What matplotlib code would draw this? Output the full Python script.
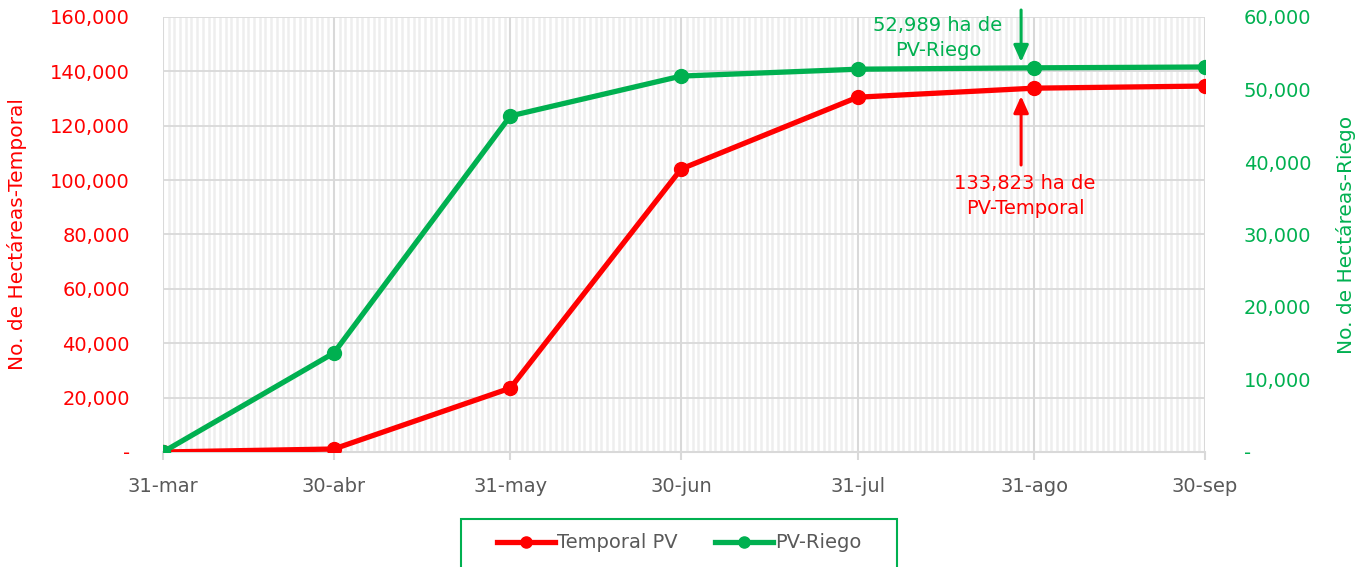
import matplotlib
matplotlib.use("Agg")
import matplotlib.pyplot as plt
from matplotlib.patches import Rectangle
from matplotlib.ticker import FuncFormatter

# ---- data ----
dates = ["31-mar", "30-abr", "31-may", "30-jun", "31-jul", "31-ago", "30-sep"]
day_offsets = [0, 30, 61, 91, 122, 153, 183]
temporal = [0, 1100, 23500, 104100, 130500, 133823, 134600]
riego = [0, 13650, 46350, 51850, 52800, 52989, 53100]
series_names = ["Temporal PV", "PV-Riego"]
left_ticks = [0, 20000, 40000, 60000, 80000, 100000, 120000, 140000, 160000]
right_ticks = [0, 10000, 20000, 30000, 40000, 50000, 60000]

RED = "#FF0000"
GREEN = "#00B050"
GRAY = "#595959"
GRID = "#D9D9D9"
MINOR = "#EEEEEE"
FS = 14

plt.rcParams["font.family"] = ["DejaVu Sans"]

fig = plt.figure(figsize=(13.64, 5.67), dpi=100)
W, H = 1364, 567
AW = 1205 - 163
ax = fig.add_axes([163 / W, 1 - 452 / H, AW / W, (452 - 17) / H])
ax2 = ax.twinx()

fmt = FuncFormatter(lambda v, p: "-" if v == 0 else f"{int(v):,}")

# grid
ax.set_xlim(day_offsets[0], day_offsets[-1])
ax.set_xticks(day_offsets)
ax.set_xticklabels(dates)
ax.set_xticks(range(day_offsets[0], day_offsets[-1] + 1), minor=True)
ax.grid(which="minor", axis="x", color=MINOR, lw=1.8, zorder=0)
ax.grid(which="major", axis="x", color=GRID, lw=1.5, zorder=0)
ax.grid(which="major", axis="y", color=GRID, lw=1.3, zorder=0)
ax.set_axisbelow(True)

ax.set_ylim(0, 160000)
ax.set_yticks(left_ticks)
ax.yaxis.set_major_formatter(fmt)
ax2.set_ylim(0, 60000)
ax2.set_yticks(right_ticks)
ax2.yaxis.set_major_formatter(fmt)

for a in (ax, ax2):
    for s in a.spines.values():
        s.set_visible(False)
ax.spines["bottom"].set_visible(True)
ax.spines["bottom"].set_color(GRID)
ax.spines["bottom"].set_linewidth(1.5)

ax.tick_params(axis="x", which="major", length=6, width=1.5, color=GRID,
               labelsize=FS, labelcolor=GRAY, pad=12)
ax.tick_params(axis="x", which="minor", length=0)
ax.tick_params(axis="y", length=0, labelsize=FS, labelcolor=RED, pad=24)
ax2.tick_params(axis="y", length=0, labelsize=FS, labelcolor=GREEN, pad=28)

ax.set_ylabel("No. de Hectáreas-Temporal", color=RED, fontsize=14.5)
ax.yaxis.set_label_coords((27 - 163) / AW, 0.5)
ax2.set_ylabel("No. de Hectáreas-Riego", color=GREEN, fontsize=14.5)
ax2.yaxis.set_label_coords((1336 - 163) / AW, 0.5)

l1, = ax.plot(day_offsets, temporal, color=RED, lw=3.8, marker="o", ms=10,
              label=series_names[0], zorder=3)
l2, = ax2.plot(day_offsets, riego, color=GREEN, lw=3.8, marker="o", ms=10,
               label=series_names[1], zorder=3)

# annotations
arrow_x = 150.7
ax2.annotate("", xy=(arrow_x, 53800), xytext=(arrow_x, 60965),
             arrowprops=dict(arrowstyle="-|>,head_length=1.0,head_width=0.45",
                             color=GREEN, lw=2.2, shrinkA=0, shrinkB=0),
             annotation_clip=False)
ax2.text(136.1, (452 - 38.5) / 435 * 60000, "52,989 ha de\nPV-Riego", color=GREEN,
         fontsize=FS, ha="center", va="center", linespacing=1.4)
ax.annotate("", xy=(arrow_x, 130900), xytext=(arrow_x, 105560),
            arrowprops=dict(arrowstyle="-|>,head_length=1.0,head_width=0.45",
                            color=RED, lw=2.2, shrinkA=0, shrinkB=0))
ax.text(151.4, (452 - 196.5) / 435 * 160000, "133,823 ha de\nPV-Temporal", color=RED,
        fontsize=FS, ha="center", va="center", linespacing=1.4)

# legend
fig.patches.append(Rectangle((461 / W, -0.05), (897 - 461) / W, (567 - 519) / H + 0.05,
                             transform=fig.transFigure, fill=False,
                             edgecolor=GREEN, lw=1.5))
leg = fig.legend([l1, l2], series_names, loc="center", bbox_to_anchor=(679 / W, 1 - 543 / H),
                 ncol=2, frameon=False, fontsize=FS, handlelength=3.0,
                 handletextpad=0.1, columnspacing=1.9, markerscale=0.8)
for t in leg.get_texts():
    t.set_color(GRAY)

fig.savefig("out.png", dpi=100)
